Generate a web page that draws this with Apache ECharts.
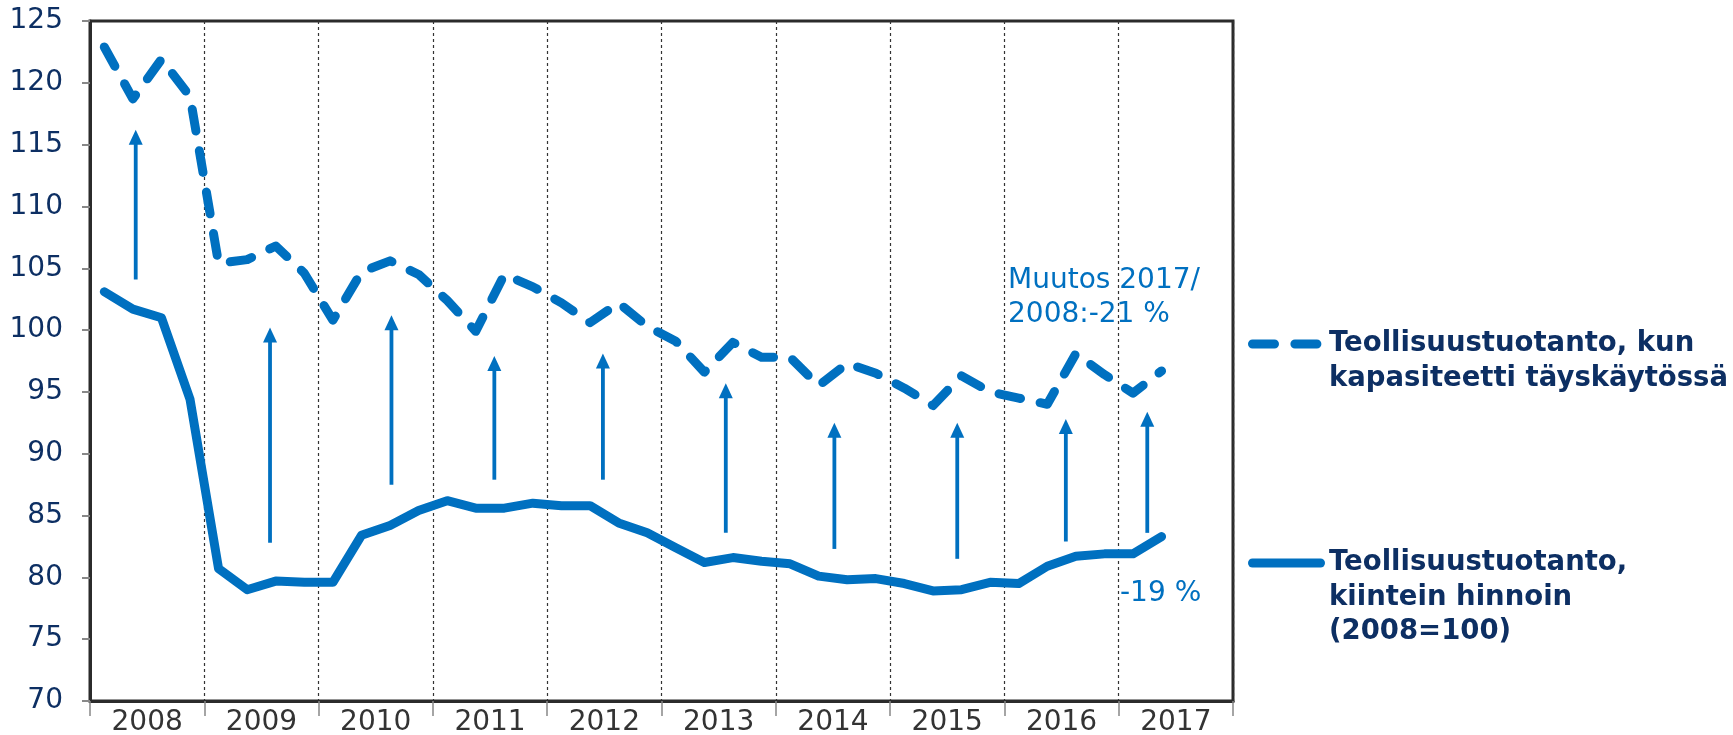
<!DOCTYPE html>
<html>
<head>
<meta charset="utf-8">
<title>Teollisuustuotanto</title>
<script src="https://cdn.jsdelivr.net/npm/echarts@6/dist/echarts.min.js"></script>
<style>
    html, body { margin: 0; padding: 0; background: #fff; }
    #chart { width: 1733px; height: 735px; }
</style>
</head>
<body>
<div id="chart"></div>
<script>
// years on the axis, data is quarterly (2008Q1 .. 2017Q2)
let years = ["2008", "2009", "2010", "2011", "2012", "2013", "2014", "2015", "2016", "2017"];
let quarters = years.flatMap(y => ["Q1", "Q2", "Q3", "Q4"].map(q => y + " " + q));

// output if capacity fully used (dashed)
let capacityIndex = [
    122.9, 118.7, 121.9, 118.9,
    105.4, 105.7, 106.8, 104.6,
    100.8, 104.7, 105.6, 104.5,
    102.4, 99.9, 104.5, 103.5,
    102.2, 100.6, 102.2, 100.3,
    99.1, 96.6, 99.0, 97.8,
    97.8, 95.5, 97.3, 96.5,
    95.3, 93.9, 96.3, 95.0,
    94.5, 94.0, 98.1, 96.4,
    94.9, 96.7
];

// output at fixed prices, 2008=100 (solid)
let fixedPriceIndex = [
    103.1, 101.7, 101.0, 94.4,
    80.7, 79.0, 79.7, 79.6,
    79.6, 83.4, 84.2, 85.4,
    86.2, 85.6, 85.6, 86.0,
    85.8, 85.8, 84.4, 83.6,
    82.4, 81.2, 81.6, 81.3,
    81.1, 80.1, 79.8, 79.9,
    79.5, 78.9, 79.0, 79.6,
    79.5, 80.9, 81.7, 81.9,
    81.9, 83.3
];

// gap arrows: position in quarters (0 = 2008Q1), start value, tip value
let arrowAt = [1.1, 5.8, 10.05, 13.65, 17.45, 21.75, 25.55, 29.85, 33.65, 36.5];
let arrowFrom = [104.1, 82.8, 87.5, 87.9, 87.9, 83.6, 82.3, 81.5, 82.9, 83.6];
let arrowTo = [116.2, 100.2, 101.2, 97.9, 98.1, 95.7, 92.5, 92.5, 92.8, 93.4];

let seriesNames = [
    "Teollisuustuotanto, kun\nkapasiteetti täyskäytössä",
    "Teollisuustuotanto,\nkiintein hinnoin\n(2008=100)"
];
let changeNotes = ["Muutos 2017/\n2008:-21 %", "-19 %"];

let blue = "#0070C0";
let navy = "#0d2f63";
let font = "DejaVu Sans";

let chart = echarts.init(document.getElementById("chart"));
let option = {
    animation: false,
    backgroundColor: "#fff",
    textStyle: {
        fontFamily: font
    },
    grid: {
        left: 90,
        right: 500,
        top: 21,
        bottom: 34,
        show: true,
        borderColor: "#2b2b2b",
        borderWidth: 3,
        outerBoundsMode: "none"
    },
    xAxis: [
        {
            type: "category",
            data: years,
            position: "bottom",
            boundaryGap: true,
            axisLine: {
                onZero: false,
                lineStyle: { color: "#2b2b2b", width: 3 }
            },
            axisTick: {
                show: true,
                length: 15,
                lineStyle: { color: "#888", width: 1.5 }
            },
            axisLabel: {
                margin: 8,
                color: "#333",
                fontSize: 28,
                fontFamily: font
            },
            splitLine: {
                show: true,
                interval: 0,
                lineStyle: { color: "#333", width: 1.2, type: [3, 3] }
            }
        },
        {
            type: "category",
            data: quarters,
            position: "bottom",
            boundaryGap: true,
            show: false
        },
        {
            type: "value",
            position: "bottom",
            min: -0.5,
            max: 39.5,
            show: false
        }
    ],
    yAxis: {
        type: "value",
        min: 70,
        max: 125,
        interval: 5,
        axisLine: {
            show: true,
            onZero: false,
            lineStyle: { color: "#2b2b2b", width: 3 }
        },
        axisTick: {
            show: true,
            length: 8,
            lineStyle: { color: "#888", width: 2 }
        },
        axisLabel: {
            margin: 27,
            color: navy,
            fontSize: 28,
            fontFamily: font
        },
        splitLine: {
            show: false
        }
    },
    series: [
        {
            name: "arrows",
            type: "custom",
            xAxisIndex: 2,
            yAxisIndex: 0,
            z: 1,
            data: arrowAt.map((x, i) => [x, arrowFrom[i], arrowTo[i]]),
            encode: { x: 0, y: [1, 2] },
            renderItem: function (params, api) {
                let base = api.coord([api.value(0), api.value(1)]);
                let tip = api.coord([api.value(0), api.value(2)]);
                return {
                    type: "group",
                    children: [
                        {
                            type: "line",
                            shape: { x1: base[0], y1: base[1], x2: tip[0], y2: tip[1] + 12 },
                            style: { stroke: blue, lineWidth: 3.8 }
                        },
                        {
                            type: "polygon",
                            shape: {
                                points: [
                                    [tip[0], tip[1]],
                                    [tip[0] - 7, tip[1] + 15],
                                    [tip[0] + 7, tip[1] + 15]
                                ]
                            },
                            style: { fill: blue }
                        }
                    ]
                };
            }
        },
        {
            name: seriesNames[0],
            type: "line",
            xAxisIndex: 1,
            z: 3,
            data: capacityIndex,
            symbol: "none",
            lineStyle: {
                color: blue,
                width: 9,
                type: [22, 20],
                cap: "round",
                join: "round"
            }
        },
        {
            name: seriesNames[1],
            type: "line",
            xAxisIndex: 1,
            z: 3,
            data: fixedPriceIndex,
            symbol: "none",
            lineStyle: {
                color: blue,
                width: 9,
                cap: "round",
                join: "round"
            }
        }
    ],
    graphic: [
        {
            type: "text",
            x: 1008,
            y: 264,
            style: {
                text: changeNotes[0],
                fill: blue,
                fontSize: 28,
                fontFamily: font,
                lineHeight: 34
            }
        },
        {
            type: "text",
            x: 1120,
            y: 577,
            style: {
                text: changeNotes[1],
                fill: blue,
                fontSize: 28,
                fontFamily: font,
                lineHeight: 34
            }
        },
        // legend
        {
            type: "line",
            shape: { x1: 1252.5, y1: 344, x2: 1317, y2: 344 },
            style: { stroke: blue, lineWidth: 9, lineCap: "round", lineDash: [22, 20.4] }
        },
        {
            type: "text",
            x: 1329,
            y: 327,
            style: {
                text: seriesNames[0],
                fill: navy,
                fontSize: 27.5,
                fontWeight: "bold",
                fontFamily: font,
                lineHeight: 34.5
            }
        },
        {
            type: "line",
            shape: { x1: 1252.5, y1: 563, x2: 1320.5, y2: 563 },
            style: { stroke: blue, lineWidth: 9, lineCap: "round" }
        },
        {
            type: "text",
            x: 1329,
            y: 546,
            style: {
                text: seriesNames[1],
                fill: navy,
                fontSize: 27.5,
                fontWeight: "bold",
                fontFamily: font,
                lineHeight: 34.5
            }
        }
    ]
};
chart.setOption(option);
window.onresize = function () {
    chart.resize();
};
</script>
</body>
</html>
